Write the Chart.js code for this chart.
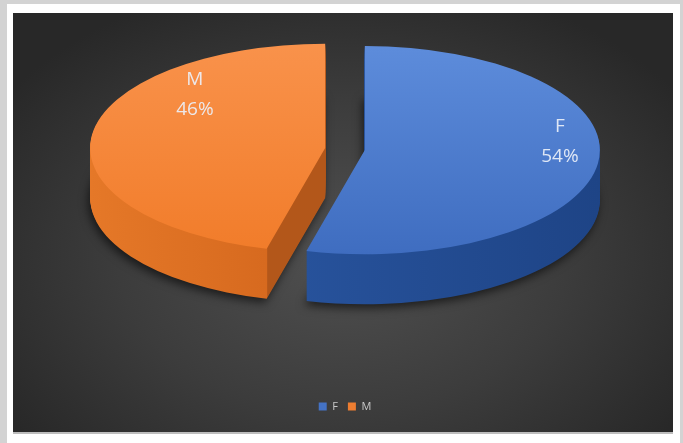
<!DOCTYPE html>
<html>
<head>
<meta charset="utf-8">
<script src="https://cdn.jsdelivr.net/npm/chart.js@4.4.1/dist/chart.umd.min.js"></script>
<style>
  html, body { margin: 0; padding: 0; }
  body { width: 683px; height: 443px; background: #d3d3d3; position: relative; overflow: hidden; }
  .panel { position: absolute; left: 7px; top: 4px; width: 673px; height: 439px; background: #fff; }
  .plot {
    position: absolute; left: 6px; top: 9px; width: 660px; height: 419px;
    background: radial-gradient(ellipse 62% 68% at 50% 58%, #505050 0%, #3c3c3c 55%, #282828 100%);
    border-bottom: 2px solid #bdbdbd;
  }
  canvas { display: block; }
</style>
</head>
<body>
<div class="panel"><div class="plot"><canvas id="pie" width="660" height="419"></canvas></div></div>
<script>
  const labels = ["F", "M"];
  const shares = [54, 46];

  const baseColors = ["#4472c4", "#ed7d31"];
  const topShades = [["#5d8cdb", "#3f6dc0"], ["#f9924b", "#f17c2a"]];
  const sideShades = [
    { wall: ["#2c5aa7", "#1e4486"] },
    { wall: ["#e57828", "#d76a1f"], cut: "#b3571a" },
  ];

  const TILT = 0.443;      // vertical squash of the disc
  const DEPTH = 50;        // thickness in px
  const EXPLODE = 20;      // slice pull-out along its bisector
  const LIFT = -53;        // raise the disc above the layout centre
  const LABEL_SPOTS = [{ reach: 0.834, turn: -12.6 }, { reach: 0.752, turn: 35.3 }];
  const FONT = "'Open Sans', 'Noto Sans', sans-serif";

  const total = shares.reduce((a, b) => a + b, 0);

  function paint(ctx, arc, fill) {
    const o = arc.options;
    const keep = o.backgroundColor;
    o.backgroundColor = fill;
    arc.draw(ctx);
    o.backgroundColor = keep;
  }

  function topFill(ctx, arc, i) {
    const R = arc.outerRadius;
    const g = ctx.createLinearGradient(0, arc.y - R, 0, arc.y + R);
    g.addColorStop(0, topShades[i][0]);
    g.addColorStop(1, topShades[i][1]);
    return g;
  }

  function sideFill(ctx, arc, i) {
    const R = arc.outerRadius;
    const s = sideShades[i];
    const g = ctx.createLinearGradient(arc.x - R, 0, arc.x + R, 0);
    if (s.cut) {
      // the straight cut face starts where the slice's first edge meets the rim
      const t = Math.min(Math.max((Math.cos(arc.startAngle) * R + R) / (2 * R), 0), 1);
      g.addColorStop(0, s.wall[0]);
      g.addColorStop(t, s.wall[1]);
      g.addColorStop(Math.min(t + 0.002, 1), s.cut);
      g.addColorStop(1, s.cut);
    } else {
      g.addColorStop(0, s.wall[0]);
      g.addColorStop(1, s.wall[1]);
    }
    return g;
  }

  const pie3d = {
    id: "pie3d",
    beforeDatasetsDraw(chart) {
      const ctx = chart.ctx;
      const arcs = chart.getDatasetMeta(0).data;

      const place = (arc, drop) => {
        const mid = (arc.startAngle + arc.endAngle) / 2;
        ctx.translate(arc.x, arc.y + LIFT + drop);
        ctx.scale(1, TILT);
        ctx.translate(-arc.x, -arc.y);
        ctx.translate(Math.cos(mid) * EXPLODE, Math.sin(mid) * EXPLODE);
      };

      // walls: stacked copies, deepest first
      for (let d = DEPTH; d >= 1; d--) {
        arcs.forEach((arc, i) => {
          ctx.save();
          place(arc, d);
          if (d === DEPTH) {
            ctx.shadowColor = "rgba(0,0,0,0.6)";
            ctx.shadowBlur = 10;
            ctx.shadowOffsetX = -2;
            ctx.shadowOffsetY = 4;
          }
          paint(ctx, arc, sideFill(ctx, arc, i));
          ctx.restore();
        });
      }
      arcs.forEach((arc, i) => {
        ctx.save();
        place(arc, 0);
        paint(ctx, arc, topFill(ctx, arc, i));
        ctx.restore();
      });

      // slice labels
      ctx.save();
      ctx.font = `19px ${FONT}`;
      ctx.fillStyle = "rgba(236,240,248,0.92)";
      ctx.textAlign = "center";
      ctx.textBaseline = "middle";
      arcs.forEach((arc, i) => {
        const mid = (arc.startAngle + arc.endAngle) / 2;
        const spot = LABEL_SPOTS[i];
        const a = mid + spot.turn * Math.PI / 180;
        const r = arc.outerRadius * spot.reach;
        const x = arc.x + Math.cos(mid) * EXPLODE + Math.cos(a) * r;
        const y = arc.y + LIFT + (Math.sin(mid) * EXPLODE + Math.sin(a) * r) * TILT;
        ctx.fillText(labels[i], x, y - 15);
        ctx.fillText(Math.round(shares[i] / total * 100) + "%", x, y + 15);
      });
      ctx.restore();
      return false;
    },
  };

  new Chart(document.getElementById("pie"), {
    type: "pie",
    data: {
      labels,
      datasets: [{
        data: shares,
        backgroundColor: baseColors,
        borderWidth: 0,
        radius: 235,
      }],
    },
    options: {
      responsive: false,
      animation: false,
      events: [],
      layout: { padding: { left: 4, top: 0, bottom: 10 } },
      plugins: {
        tooltip: { enabled: false },
        legend: {
          position: "bottom",
          labels: {
            color: "#c8c8c8",
            boxWidth: 8,
            boxHeight: 8,
            padding: 10,
            font: { family: FONT, size: 11 },
          },
        },
      },
    },
    plugins: [pie3d],
  });
</script>
</body>
</html>
